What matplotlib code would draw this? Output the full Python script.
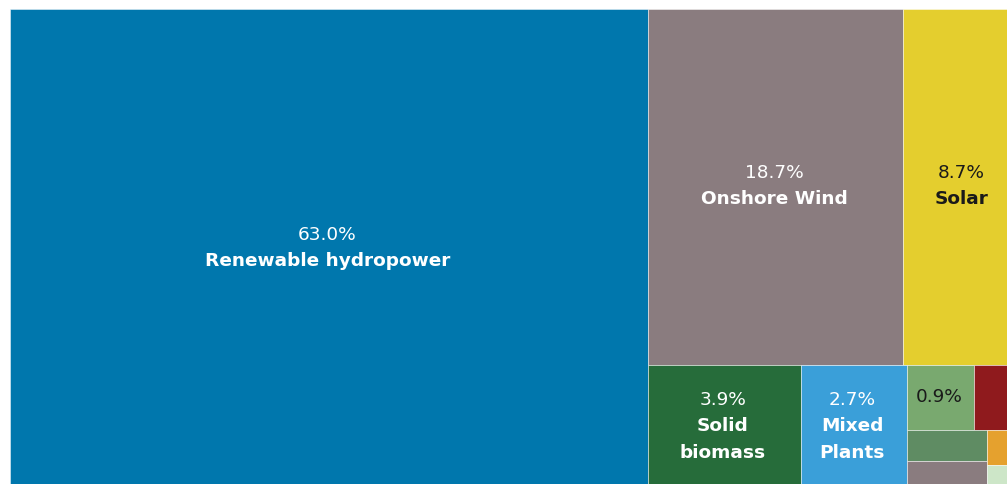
import matplotlib
matplotlib.use("Agg")
import matplotlib.pyplot as plt
from matplotlib.patches import Rectangle

# ---- data (share of renewable generation, %) ----
labels = ["Renewable hydropower", "Onshore Wind", "Solar", "Solid\nbiomass",
          "Mixed\nPlants", "", "", "", "", "", ""]
shares = [63.0, 18.7, 8.7, 3.9, 2.7, 0.9, 0.64, 0.52, 0.46, 0.25, 0.17]
pct_text = ["63.0%", "18.7%", "8.7%", "3.9%", "2.7%", "0.9%", "", "", "", "", ""]
colors = ["#0077ad", "#8a7c7f", "#e4ce2e", "#266c3a", "#3a9fd9", "#79a96f",
          "#8f1a1d", "#5f8c63", "#8a7c7f", "#e5a12e", "#cde6c8"]

PHI = (1 + 5 ** 0.5) / 2


def squarify(values, x0, y0, x1, y1, ratio=PHI):
    """d3-hierarchy style squarified treemap."""
    rects = []
    n = len(values)
    i0 = i1 = 0
    value = float(sum(values))
    while i0 < n:
        dx, dy = x1 - x0, y1 - y0
        sum_v = values[i1]
        i1 += 1
        min_v = max_v = sum_v
        alpha = max(dy / dx, dx / dy) / (value * ratio)
        beta = sum_v * sum_v * alpha
        min_ratio = max(max_v / beta, beta / min_v)
        while i1 < n:
            v = values[i1]
            s = sum_v + v
            mn, mx = min(min_v, v), max(max_v, v)
            beta = s * s * alpha
            new_ratio = max(mx / beta, beta / mn)
            if new_ratio > min_ratio:
                break
            sum_v, min_v, max_v, min_ratio = s, mn, mx, new_ratio
            i1 += 1
        row = values[i0:i1]
        if dx < dy:
            y_new = y0 + dy * sum_v / value
            xx = x0
            for v in row:
                w = dx * v / sum_v
                rects.append((xx, y0, w, y_new - y0))
                xx += w
            y0 = y_new
        else:
            x_new = x0 + dx * sum_v / value
            yy = y0
            for v in row:
                h = dy * v / sum_v
                rects.append((x0, yy, x_new - x0, h))
                yy += h
            x0 = x_new
        value -= sum_v
        i0 = i1
    return rects


FW, FH = 1007, 485
TW, TH = 1012, 480  # treemap extent in pixels (cropped by the figure)
fig = plt.figure(figsize=(FW / 100, FH / 100), dpi=100)
fig.patch.set_facecolor("white")
ax = fig.add_axes([10 / FW, (FH - 10 - TH) / FH, TW / FW, TH / FH])
ax.set_xlim(0, TW)
ax.set_ylim(TH, 0)
ax.axis("off")

rects = squarify(shares, 0, 0, TW, TH)
FS = 13.3
LINE = 26.5
for (x, y, w, h), col, lab, pct in zip(rects, colors, labels, pct_text):
    ax.add_patch(Rectangle((x, y), w, h, facecolor=col,
                           edgecolor=(1, 1, 1, 0.55), linewidth=0.6))
    r, g, b = matplotlib.colors.to_rgb(col)
    lum = 0.299 * r + 0.587 * g + 0.114 * b
    tc = "#1a1a1a" if lum > 0.55 else "white"
    lines = []
    if pct and w >= 55 and h >= 40:
        lines.append((pct, "normal"))
        if lab and w >= 90:
            for part in lab.split("\n"):
                lines.append((part, "bold"))
    n = len(lines)
    cx, cy = x + w / 2, y + h / 2
    for i, (txt, wt) in enumerate(lines):
        off = -3.5 + (i - (n - 1) / 2) * LINE + 6.7
        ax.annotate(txt, (cx, cy), xytext=(-1.5, -off), textcoords="offset pixels",
                    ha="center", va="baseline", fontsize=FS, fontweight=wt,
                    color=tc, family="DejaVu Sans")

fig.savefig("out.png", dpi=100)
